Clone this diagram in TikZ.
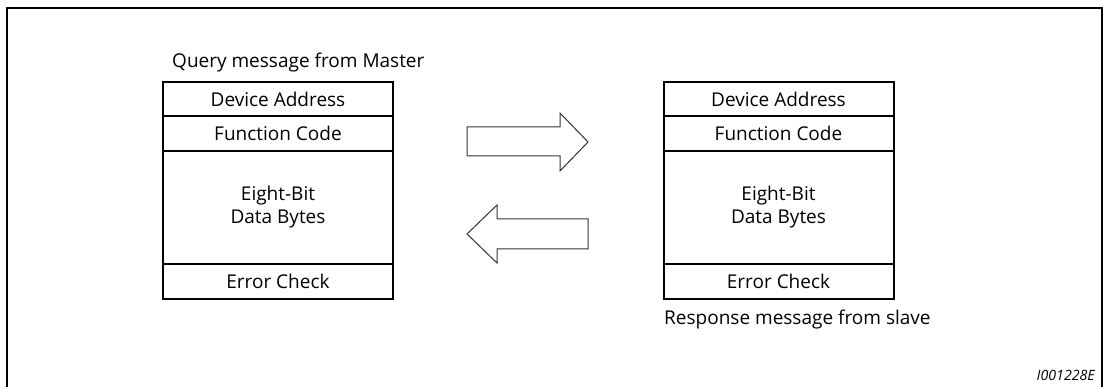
\documentclass[tikz,border=0pt]{standalone}
\usepackage{fontspec}
\setmainfont{Open Sans}
\begin{document}
\begin{tikzpicture}[x=1pt,y=-1pt,
  cell/.style={draw, line width=2pt, minimum width=230pt, inner sep=0pt, align=center,
    font=\fontsize{19}{23}\selectfont},
  blockarrow/.style={draw=black!80, line width=1pt, fill=white, line join=miter},
  lbl/.style={inner sep=0pt, anchor=base west, font=\fontsize{19}{22}\selectfont}]
\useasboundingbox (0,0) rectangle (1103,387);
\draw[line width=2pt] (7,400) -- (7,8) -- (1102,8) -- (1102,400);
% master query
\node[cell, minimum height=34pt] (qa) at (278,99) {Device Address};
\node[cell, minimum height=35pt] (qf) at (278,133.5) {Function Code};
\node[cell, minimum height=113pt] (qd) at (278,207.5) {Eight-Bit\\Data Bytes};
\node[cell, minimum height=35pt] (qe) at (278,281.5) {Error Check};
\node[lbl] (ql) at (172,68) {Query message from Master};
% slave response
\node[cell, minimum height=34pt] (ra) at (778.5,99) {Device Address};
\node[cell, minimum height=35pt] (rf) at (778.5,133.5) {Function Code};
\node[cell, minimum height=113pt] (rd) at (778.5,207.5) {Eight-Bit\\Data Bytes};
\node[cell, minimum height=35pt] (re) at (778.5,281.5) {Error Check};
\node[lbl] (rl) at (664,325) {Response message from slave};
% block arrows
\draw[blockarrow] (467,127) -- (560,127) -- (560,113) -- (588,142) -- (560,171) -- (560,156) -- (467,156) -- cycle;
\draw[blockarrow] (588,219) -- (497,219) -- (497,205) -- (467,234) -- (497,263) -- (497,249) -- (588,249) -- cycle;
% figure id
\node[inner sep=0pt, anchor=base east, font=\fontsize{14.2}{16}\selectfont\itshape] (id) at (1095,380) {I001228E};
\end{tikzpicture}
\end{document}
